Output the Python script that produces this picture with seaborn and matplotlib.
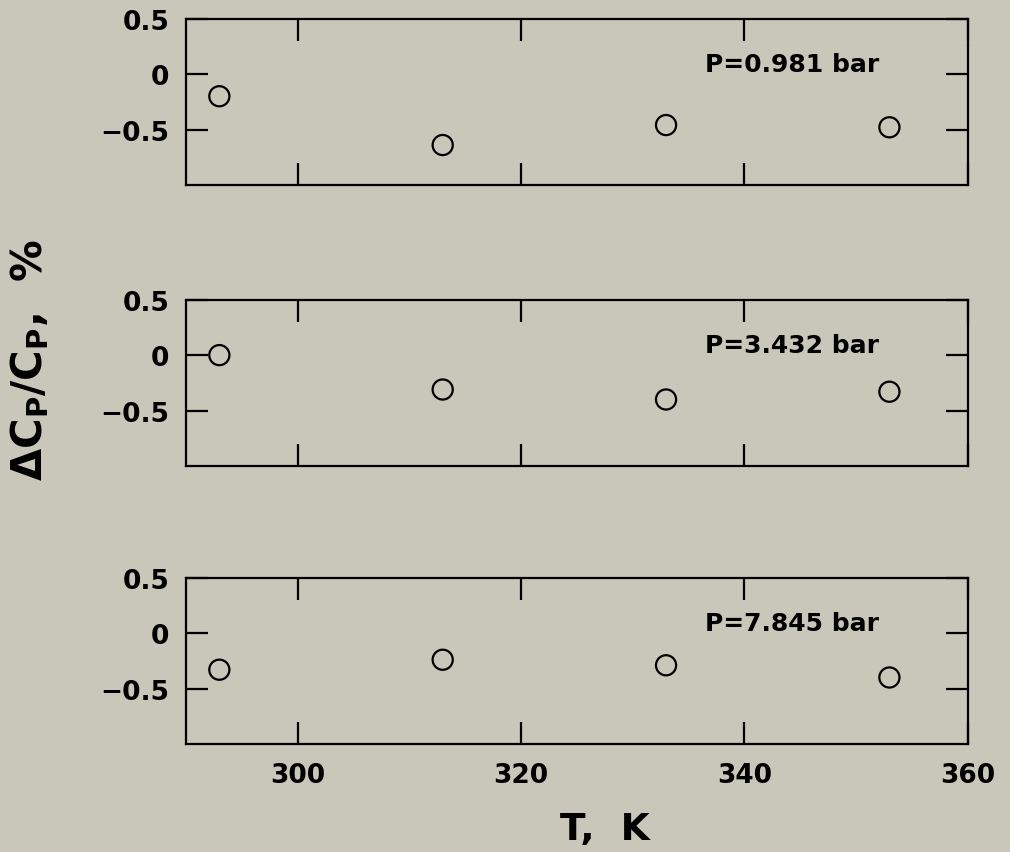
import numpy as np
import pandas as pd
import matplotlib
matplotlib.use("Agg")
import matplotlib.pyplot as plt
import seaborn as sns

# Data
temps = [293, 313, 333, 353]
pressures = ["P=0.981 bar", "P=3.432 bar", "P=7.845 bar"]
dev_p1 = [-0.20, -0.64, -0.46, -0.48]
dev_p2 = [0.00, -0.31, -0.40, -0.33]
dev_p3 = [-0.33, -0.24, -0.29, -0.40]
x_ticks = [300, 320, 340, 360]
y_ticks = [0.5, 0, -0.5]
y_tick_labels = ["0.5", "0", "\u22120.5"]

bg = "#c9c6ba"

sns.set_style("ticks")
plt.rcParams["font.family"] = ["DejaVu Sans"]
plt.rcParams["font.weight"] = "bold"
plt.rcParams["mathtext.default"] = "regular"
plt.rcParams["text.color"] = "black"

fig = plt.figure(figsize=(10.1, 8.53), dpi=100)
fig.patch.set_facecolor(bg)

left, width, height = 0.184, 0.774, 0.195
bottoms = [0.782, 0.4525, 0.1266]

for i, (dev, label) in enumerate(zip([dev_p1, dev_p2, dev_p3], pressures)):
    ax = fig.add_axes([left, bottoms[i], width, height])
    ax.set_facecolor(bg)
    df = pd.DataFrame({"T": temps, "dev": dev})
    sns.scatterplot(data=df, x="T", y="dev", ax=ax, marker="o", s=210,
                    facecolors="none", edgecolor="black", linewidth=1.6,
                    zorder=3)
    ax.set_xlim(290, 360)
    ax.set_ylim(-1.0, 0.5)
    ax.set_xticks(x_ticks)
    ax.set_yticks(y_ticks)
    ax.set_yticklabels(y_tick_labels)
    ax.tick_params(axis="both", direction="in", length=16, width=1.6,
                   top=True, right=True, labelsize=19, colors="black")
    ax.tick_params(axis="y", pad=12)
    ax.tick_params(axis="x", pad=13)
    for lab in ax.get_yticklabels() + ax.get_xticklabels():
        lab.set_fontweight("bold")
    if i < 2:
        ax.set_xticklabels([])
    for sp in ax.spines.values():
        sp.set_linewidth(1.6)
        sp.set_color("black")
    ax.set_xlabel("")
    ax.set_ylabel("")
    ax.text(336.5, 0.09, label, ha="left", va="center", fontsize=18,
            fontweight="bold", color="black")

fig.text(0.029, 0.578, r"$\Delta$C$_P$/C$_P$,  %", rotation=90, ha="center",
         va="center", fontsize=30, fontweight="bold", color="black")
fig.text(0.599, 0.027, "T,  K", ha="center", va="center", fontsize=27,
         fontweight="bold", color="black")

fig.savefig("out.png", dpi=100, facecolor=bg)
